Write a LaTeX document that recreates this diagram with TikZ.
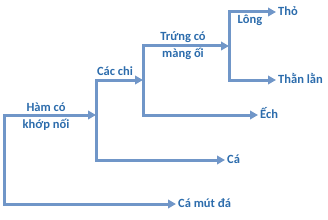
\documentclass[tikz,border=0pt]{standalone}
\usepackage{fontspec}
\setmainfont{Carlito}
\usetikzlibrary{arrows.meta}
\definecolor{linec}{RGB}{112,150,200}
\definecolor{textc}{RGB}{44,108,172}
\begin{document}
\begin{tikzpicture}[x=1pt,y=-1pt,
  branch/.style={draw=linec, line width=3pt, line join=miter,
    {Triangle[length=8pt,width=8.5pt]}-{Triangle[length=8pt,width=8.5pt]}},
  lbl/.style={font=\bfseries\fontsize{12.5}{17}\selectfont, text=textc, inner sep=0pt, align=center},
  leaf/.style={lbl, anchor=west, text height=0.63em, text depth=0pt, inner xsep=2pt}]
\useasboundingbox (0,0) rectangle (328,219);
% junction corners
\coordinate (r1) at (4,115);
\coordinate (r2) at (4,204);
\coordinate (b1) at (96,80);
\coordinate (b2) at (96,160);
\coordinate (c1) at (143,46);
\coordinate (c2) at (143,115);
\coordinate (d1) at (229,12);
\coordinate (d2) at (229,80);
% labels
\node[lbl] (ham) at (46,116.5) {Hàm có\\khớp nối};
\node[lbl, anchor=base] (cacchi) at (115,75) {Các chi};
\node[lbl] (trung) at (183,45.5) {Trứng có\\màng ối};
\node[lbl, anchor=base] (long) at (250,24) {Lông};
% leaves
\node[leaf] (tho) at (276,12) {Thỏ};
\node[leaf] (than) at (276,80) {Thằn lằn};
\node[leaf] (ech) at (258,115) {Ếch};
\node[leaf] (ca) at (225,160) {Cá};
\node[leaf] (cmd) at (176,204) {Cá mút đá};
% branches
\draw[branch] (b1 |- r1) -- (r1) -- (r2) -- (cmd.west);
\draw[branch] (c1 |- b1) -- (b1) -- (b2) -- (ca.west);
\draw[branch] (d1 |- c1) -- (c1) -- (c2) -- (ech.west);
\draw[branch] (tho.west) -- (d1) -- (d2) -- (than.west);
\end{tikzpicture}
\end{document}
